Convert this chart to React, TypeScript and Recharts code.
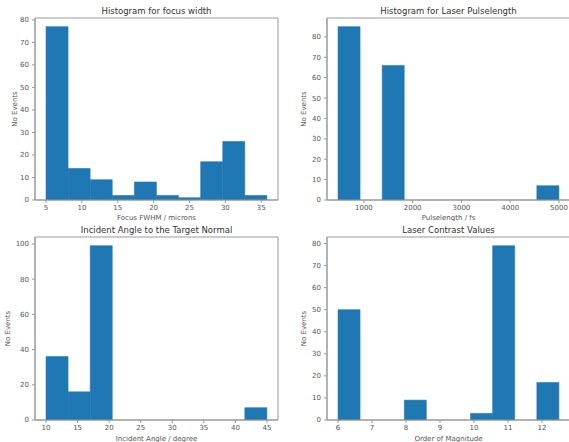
import React from "react";
import {
  BarChart,
  Bar,
  XAxis,
  YAxis,
  ReferenceArea,
} from "recharts";

// bin edges and counts
const focusBins = [5, 8.08, 11.16, 14.24, 17.32, 20.4, 23.48, 26.56, 29.64, 32.72, 35.8];
const focusCounts = [77, 14, 9, 2, 8, 2, 1, 17, 26, 2];
const focusTicks = [5, 10, 15, 20, 25, 30, 35];
const focusYTicks = [0, 10, 20, 30, 40, 50, 60, 70, 80];

const pulseBins = [470, 923, 1376, 1829, 2282, 2735, 3188, 3641, 4094, 4547, 5000];
const pulseCounts = [85, 0, 66, 0, 0, 0, 0, 0, 0, 7];
const pulseTicks = [1000, 2000, 3000, 4000, 5000];
const pulseYTicks = [0, 10, 20, 30, 40, 50, 60, 70, 80];

const angleBins = [10, 13.5, 17, 20.5, 24, 27.5, 31, 34.5, 38, 41.5, 45];
const angleCounts = [36, 16, 99, 0, 0, 0, 0, 0, 0, 7];
const angleTicks = [10, 15, 20, 25, 30, 35, 40, 45];
const angleYTicks = [0, 20, 40, 60, 80, 100];

const contrastBins = [6, 6.65, 7.3, 7.95, 8.6, 9.25, 9.9, 10.55, 11.2, 11.85, 12.5];
const contrastCounts = [50, 0, 0, 9, 0, 0, 3, 79, 0, 17];
const contrastTicks = [6, 7, 8, 9, 10, 11, 12];
const contrastYTicks = [0, 10, 20, 30, 40, 50, 60, 70, 80];

const FONT = "DejaVu Sans";
const TEXT = "#555";
const LINE = "#999";
const BLUE = "#1f77b4";

type PanelProps = {
  title: string;
  xLabel: string;
  bins: number[];
  counts: number[];
  xTicks: number[];
  yTicks: number[];
  left: number;
  top: number;
  width: number;
  yAxisWidth: number;
  marginTop: number;
  marginRight: number;
  xAxisHeight: number;
  yLabelX: number;
};

function Panel(p: PanelProps) {
  const data = p.counts.map((c, i) => ({
    x: (p.bins[i] + p.bins[i + 1]) / 2,
    count: c,
  }));
  const first = p.bins[0];
  const last = p.bins[p.bins.length - 1];
  const pad = (last - first) * 0.05;
  const lo = first - pad;
  const hi = last + pad;
  const yTop = Math.max(...p.counts) * 1.05;
  const height = 221;
  const plotLeft = p.yAxisWidth;
  const plotWidth = p.width - p.yAxisWidth - p.marginRight;

  return (
    <div
      style={{
        position: "absolute",
        left: p.left,
        top: p.top,
        width: p.width,
        height,
      }}
    >
      <div
        style={{
          position: "absolute",
          left: plotLeft,
          width: plotWidth,
          top: p.marginTop - 12,
          textAlign: "center",
          fontFamily: FONT,
          fontSize: 8.5,
          lineHeight: "10px",
          color: "#333",
          whiteSpace: "nowrap",
        }}
      >
        {p.title}
      </div>
      <BarChart
        width={p.width}
        height={height}
        data={data}
        barCategoryGap={0}
        margin={{ top: p.marginTop, right: p.marginRight, bottom: 0, left: 0 }}
      >
        <XAxis
          dataKey="x"
          type="number"
          domain={[lo, hi]}
          ticks={p.xTicks}
          allowDataOverflow
          height={p.xAxisHeight}
          tickSize={3}
          tickMargin={2}
          tick={{ fill: TEXT, fontSize: 7, fontFamily: FONT }}
          tickLine={{ stroke: LINE }}
          axisLine={{ stroke: LINE }}
          label={{
            value: p.xLabel,
            position: "insideBottom",
            offset: 1,
            fill: TEXT,
            fontSize: 7,
            fontFamily: FONT,
          }}
        />
        <YAxis
          type="number"
          domain={[0, yTop]}
          ticks={p.yTicks}
          allowDataOverflow
          width={p.yAxisWidth}
          tickSize={3}
          tickMargin={3}
          tick={{ fill: TEXT, fontSize: 7, fontFamily: FONT }}
          tickLine={{ stroke: LINE }}
          axisLine={{ stroke: LINE }}
          label={{
            value: "No Events",
            angle: -90,
            position: "insideLeft",
            offset: p.yLabelX,
            fill: TEXT,
            fontSize: 7,
            fontFamily: FONT,
            style: { textAnchor: "middle" },
          }}
        />
        <Bar
          dataKey="count"
          fill={BLUE}
          stroke={BLUE}
          strokeWidth={0.6}
          isAnimationActive={false}
        />
        <ReferenceArea
          x1={lo}
          x2={hi}
          y1={0}
          y2={yTop}
          fill="none"
          stroke={LINE}
          strokeWidth={1}
          ifOverflow="visible"
        />
      </BarChart>
    </div>
  );
}

export default function App() {
  return (
    <div
      style={{
        position: "absolute",
        left: 0,
        top: 0,
        width: 569,
        height: 442,
        overflow: "hidden",
        background: "#fff",
      }}
    >
      <Panel
        title="Histogram for focus width"
        xLabel="Focus FWHM / microns"
        bins={focusBins}
        counts={focusCounts}
        xTicks={focusTicks}
        yTicks={focusYTicks}
        left={0}
        top={0}
        width={285}
        yAxisWidth={35}
        marginTop={18}
        marginRight={7}
        xAxisHeight={21}
        yLabelX={15}
      />
      <Panel
        title="Histogram for Laser Pulselength"
        xLabel="Pulselength / fs"
        bins={pulseBins}
        counts={pulseCounts}
        xTicks={pulseTicks}
        yTicks={pulseYTicks}
        left={284}
        top={0}
        width={286}
        yAxisWidth={43}
        marginTop={18}
        marginRight={0}
        xAxisHeight={21}
        yLabelX={20}
      />
      <Panel
        title="Incident Angle to the Target Normal"
        xLabel="Incident Angle / degree"
        bins={angleBins}
        counts={angleCounts}
        xTicks={angleTicks}
        yTicks={angleYTicks}
        left={0}
        top={221}
        width={285}
        yAxisWidth={35}
        marginTop={16}
        marginRight={7}
        xAxisHeight={22}
        yLabelX={8}
      />
      <Panel
        title="Laser Contrast Values"
        xLabel="Order of Magnitude"
        bins={contrastBins}
        counts={contrastCounts}
        xTicks={contrastTicks}
        yTicks={contrastYTicks}
        left={284}
        top={221}
        width={286}
        yAxisWidth={43}
        marginTop={16}
        marginRight={0}
        xAxisHeight={22}
        yLabelX={20}
      />
    </div>
  );
}
